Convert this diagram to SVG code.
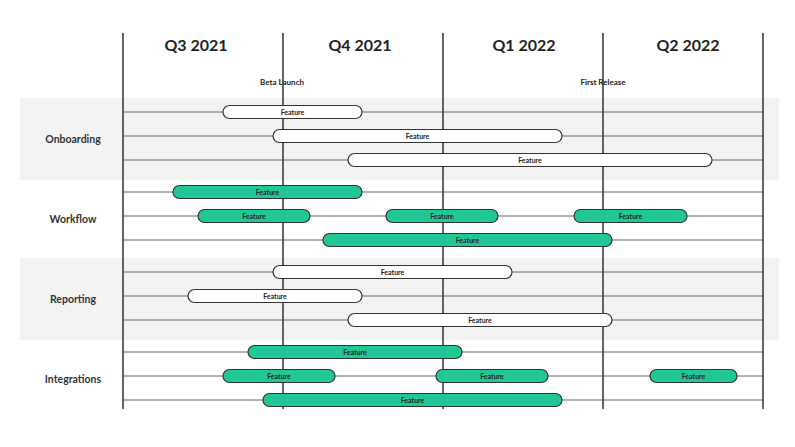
<svg xmlns="http://www.w3.org/2000/svg" width="795" height="447" viewBox="0 0 795 447">
<style>
text{font-family:"Lato","Noto Sans",sans-serif;fill:#222}
.q{font-size:16px;font-weight:bold;text-anchor:middle}
.m{font-size:8px;font-weight:bold;text-anchor:middle}
.g{font-size:10.5px;font-weight:bold;text-anchor:middle;fill:#333}
.f{font-size:7px;font-weight:bold;text-anchor:middle}
.w{fill:#fff;stroke:#333;stroke-width:1.2}
.c{fill:#21c895;stroke:#333;stroke-width:1.2}
.row{stroke:#666;stroke-width:1}
.v{stroke:#333;stroke-width:1.5}
</style>
<rect width="795" height="447" fill="#fff"/>
<rect x="20" y="98" width="759" height="82" fill="#f3f3f3"/>
<rect x="20" y="258" width="759" height="82" fill="#f3f3f3"/>
<g id="connectors">
<line class="row" x1="123" y1="112" x2="763" y2="112"/><line class="row" x1="123" y1="136" x2="763" y2="136"/><line class="row" x1="123" y1="160" x2="763" y2="160"/>
<line class="row" x1="123" y1="192" x2="763" y2="192"/><line class="row" x1="123" y1="216" x2="763" y2="216"/><line class="row" x1="123" y1="240" x2="763" y2="240"/>
<line class="row" x1="123" y1="272" x2="763" y2="272"/><line class="row" x1="123" y1="296" x2="763" y2="296"/><line class="row" x1="123" y1="320" x2="763" y2="320"/>
<line class="row" x1="123" y1="352" x2="763" y2="352"/><line class="row" x1="123" y1="376" x2="763" y2="376"/><line class="row" x1="123" y1="400" x2="763" y2="400"/>
<line class="v" x1="123" y1="33" x2="123" y2="409"/><line class="v" x1="283" y1="33" x2="283" y2="409"/><line class="v" x1="443" y1="33" x2="443" y2="409"/><line class="v" x1="603" y1="33" x2="603" y2="409"/><line class="v" x1="763" y1="33" x2="763" y2="409"/>
</g>
<g id="headers">
<text class="q" x="196" y="51">Q3 2021</text><text class="q" x="360" y="51">Q4 2021</text><text class="q" x="524" y="51">Q1 2022</text><text class="q" x="688" y="51">Q2 2022</text>
<text class="m" x="282" y="85">Beta Launch</text><text class="m" x="603" y="85">First Release</text>
</g>
<g id="groups">
<text class="g" x="73" y="143">Onboarding</text><text class="g" x="73" y="223">Workflow</text><text class="g" x="73" y="303">Reporting</text><text class="g" x="73" y="383">Integrations</text>
</g>
<g id="onboarding">
<rect class="w" x="223" y="105.5" width="139" height="13" rx="6.5"/><text class="f" x="292.5" y="114.5">Feature</text>
<rect class="w" x="273" y="129.5" width="289" height="13" rx="6.5"/><text class="f" x="417.5" y="138.5">Feature</text>
<rect class="w" x="348" y="153.5" width="364" height="13" rx="6.5"/><text class="f" x="530" y="162.5">Feature</text>
</g>
<g id="workflow">
<rect class="c" x="173" y="185.5" width="189" height="13" rx="6.5"/><text class="f" x="267.5" y="194.5">Feature</text>
<rect class="c" x="198" y="209.5" width="112" height="13" rx="6.5"/><text class="f" x="254" y="218.5">Feature</text>
<rect class="c" x="386" y="209.5" width="112" height="13" rx="6.5"/><text class="f" x="442" y="218.5">Feature</text>
<rect class="c" x="574" y="209.5" width="113" height="13" rx="6.5"/><text class="f" x="630.5" y="218.5">Feature</text>
<rect class="c" x="323" y="233.5" width="289" height="13" rx="6.5"/><text class="f" x="467.5" y="242.5">Feature</text>
</g>
<g id="reporting">
<rect class="w" x="273" y="265.5" width="239" height="13" rx="6.5"/><text class="f" x="392.5" y="274.5">Feature</text>
<rect class="w" x="188" y="289.5" width="174" height="13" rx="6.5"/><text class="f" x="275" y="298.5">Feature</text>
<rect class="w" x="348" y="313.5" width="264" height="13" rx="6.5"/><text class="f" x="480" y="322.5">Feature</text>
</g>
<g id="integrations">
<rect class="c" x="248" y="345.5" width="214" height="13" rx="6.5"/><text class="f" x="355" y="354.5">Feature</text>
<rect class="c" x="223" y="369.5" width="112" height="13" rx="6.5"/><text class="f" x="279" y="378.5">Feature</text>
<rect class="c" x="436" y="369.5" width="112" height="13" rx="6.5"/><text class="f" x="492" y="378.5">Feature</text>
<rect class="c" x="650" y="369.5" width="87" height="13" rx="6.5"/><text class="f" x="693.5" y="378.5">Feature</text>
<rect class="c" x="263" y="393.5" width="299" height="13" rx="6.5"/><text class="f" x="412.5" y="402.5">Feature</text>
</g>
</svg>
